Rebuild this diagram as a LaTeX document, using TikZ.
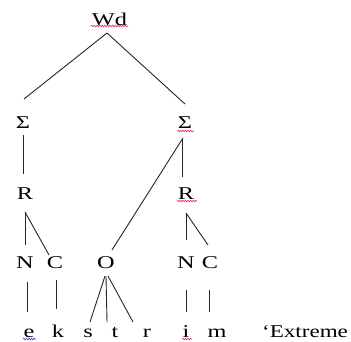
\documentclass[tikz,border=0pt]{standalone}
\usepackage{fontspec}
\setmainfont{Liberation Serif}[FakeStretch=1.35]
\newfontfamily\glossfont{Liberation Serif}[FakeStretch=1.28]
\usetikzlibrary{decorations.pathmorphing}
\begin{document}
\begin{tikzpicture}[x=1pt,y=-1pt,
  lbl/.style={anchor=base,inner sep=0pt,font=\fontsize{18}{21}\selectfont},
  edge/.style={line width=0.9pt,draw=black!85},
  squig/.style={line width=0.6pt,decorate,decoration={snake,segment length=2.6pt,amplitude=0.8pt}},
  redsq/.style={squig,draw={rgb,255:red,225;green,45;blue,75}},
  bluesq/.style={squig,draw={rgb,255:red,50;green,60;blue,225}}]
\useasboundingbox (0,0) rectangle (351,341);
\fill[white] (0,0) rectangle (351,341);
% nodes
\node[lbl] (wd) at (109.5,25) {Wd};
\node[lbl] (s1) at (23,128) {Σ};
\node[lbl] (s2) at (185,128) {Σ};
\node[lbl] (r1) at (25,199) {R};
\node[lbl] (r2) at (186,199) {R};
\node[lbl] (n1) at (25,268) {N};
\node[lbl] (c1) at (55,268) {C};
\node[lbl] (o)  at (106,268) {O};
\node[lbl] (n2) at (186,268) {N};
\node[lbl] (c2) at (210,268) {C};
\node[lbl] (e) at (29,337) {e};
\node[lbl] (k) at (58,337) {k};
\node[lbl] (s) at (88,337) {s};
\node[lbl] (t) at (115,337) {t};
\node[lbl] (r) at (147,337) {r};
\node[lbl] (i) at (186,337) {i};
\node[lbl] (m) at (217,337) {m};
\node[lbl,anchor=base west,font=\fontsize{18}{21}\glossfont] (gloss) at (262,337) {‘Extreme};
% connectors
\draw[edge] ([shift={(-2.5,8)}]wd.base) -- ([shift={(1,-29)}]s1.base);
\draw[edge] ([shift={(-2.5,8)}]wd.base) -- ([shift={(0,-24)}]s2.base);
\draw[edge] ([shift={(0,7)}]s1.base) -- ([shift={(-2,-25)}]r1.base);
\draw[edge] ([shift={(-3,11)}]s2.base) -- ([shift={(-4,-22)}]r2.base);
\draw[edge] ([shift={(-2,10)}]s2.base) -- ([shift={(6,-18)}]o.base);
\draw[edge] ([shift={(0,13)}]r1.base) -- ([shift={(0,-23)}]n1.base);
\draw[edge] ([shift={(0,13)}]r1.base) -- ([shift={(-6,-13)}]c1.base);
\draw[edge] ([shift={(0,14)}]r2.base) -- ([shift={(0,-28)}]n2.base);
\draw[edge] ([shift={(0,14)}]r2.base) -- ([shift={(-2,-23)}]c2.base);
\draw[edge] ([shift={(2,14)}]n1.base) -- ([shift={(-2,-25)}]e.base);
\draw[edge] ([shift={(1,12)}]c1.base) -- ([shift={(-2,-28)}]k.base);
\draw[edge] ([shift={(-1,8)}]o.base) -- ([shift={(2,-15)}]s.base);
\draw[edge] ([shift={(0,8)}]o.base) -- ([shift={(-8,-15)}]t.base);
\draw[edge] ([shift={(2,8)}]o.base) -- ([shift={(-14,-15)}]r.base);
\draw[edge] ([shift={(0,22)}]n2.base) -- ([shift={(0,-25)}]i.base);
\draw[edge] ([shift={(-1,22)}]c2.base) -- ([shift={(-8,-25)}]m.base);
% spell-check squiggles
\draw[redsq] (91,26) -- (128,26);
\draw[redsq] (177,131) -- (194,131);
\draw[redsq] (177,201) -- (197,201);
\draw[bluesq] (23,339) -- (36,339);
\draw[redsq] (182,339) -- (192,339);
\end{tikzpicture}
\end{document}
